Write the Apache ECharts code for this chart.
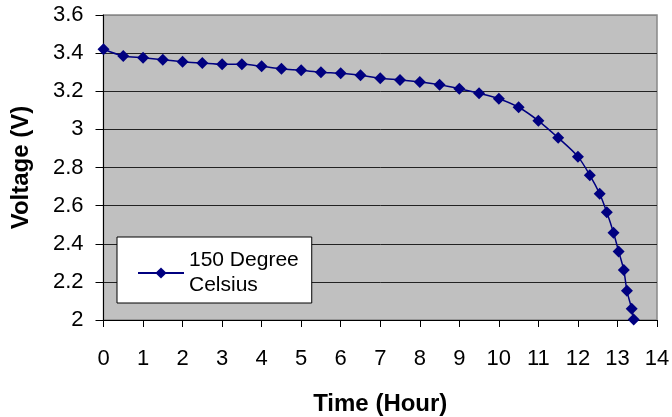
<!DOCTYPE html>
<html>
<head>
<meta charset="utf-8">
<script src="https://cdn.jsdelivr.net/npm/echarts@6/dist/echarts.min.js"></script>
<style>html,body{margin:0;padding:0;background:#fff}#c{width:672px;height:417px}</style>
</head>
<body>
<div id="c"></div>
<script>
var timeHours = [0, 0.5, 1, 1.5, 2, 2.5, 3, 3.5, 4, 4.5, 5, 5.5, 6, 6.5, 7, 7.5, 8, 8.5, 9, 9.5, 10, 10.5, 11, 11.5, 12, 12.3, 12.55, 12.73, 12.9, 13.03, 13.16, 13.24, 13.36, 13.41];
var voltage = [3.42, 3.385, 3.376, 3.365, 3.355, 3.348, 3.341, 3.341, 3.331, 3.318, 3.31, 3.30, 3.294, 3.284, 3.268, 3.259, 3.248, 3.234, 3.213, 3.189, 3.161, 3.116, 3.045, 2.956, 2.857, 2.76, 2.662, 2.565, 2.458, 2.36, 2.262, 2.153, 2.059, 2.003];
var seriesName = '150 Degree\nCelsius';
var xTitle = 'Time (Hour)';
var yTitle = 'Voltage (V)';

var points = timeHours.map(function (t, i) { return [t, voltage[i]]; });
var FONT = 'Liberation Sans, Arial, sans-serif';

var chart = echarts.init(document.getElementById('c'), null, {renderer: 'canvas'});
chart.setOption({
  animation: false,
  backgroundColor: '#ffffff',
  grid: {
    left: 103.5, right: 15, top: 15, bottom: 97,
    outerBoundsMode: 'none', containLabel: false,
    show: true, backgroundColor: '#C0C0C0', borderColor: '#888888', borderWidth: 1.5
  },
  xAxis: {
    type: 'value', min: 0, max: 14, interval: 1,
    name: xTitle, nameLocation: 'middle', nameGap: 72,
    nameTextStyle: {fontFamily: FONT, fontSize: 24, fontWeight: 'bold', color: '#000'},
    axisLine: {show: true, onZero: false, lineStyle: {color: '#000', width: 1}},
    axisTick: {show: true, inside: false, length: 7, lineStyle: {color: '#000'}},
    axisLabel: {fontFamily: FONT, fontSize: 22, color: '#000', margin: 28},
    splitLine: {show: false}
  },
  yAxis: {
    type: 'value', min: 2, max: 3.6, interval: 0.2,
    name: yTitle, nameLocation: 'middle', nameGap: 70,
    nameTextStyle: {fontFamily: FONT, fontSize: 24, fontWeight: 'bold', color: '#000'},
    axisLine: {show: true, onZero: false, lineStyle: {color: '#000', width: 1}},
    axisTick: {show: true, inside: false, length: 8, lineStyle: {color: '#000'}},
    axisLabel: {fontFamily: FONT, fontSize: 22, color: '#000', margin: 20,
      formatter: function (v) { return String(Math.round(v * 10) / 10); }},
    splitLine: {show: true, lineStyle: {color: ['#222', '#222', '#222', '#222', '#222', '#222', '#222', '#222', '#888'], width: 1}}
  },
  legend: {
    show: true, left: 117, top: 237, orient: 'vertical',
    backgroundColor: '#ffffff', borderColor: '#000', borderWidth: 1,
    padding: [13, 13, 7, 20],
    itemWidth: 46, itemHeight: 14,
    textStyle: {fontFamily: FONT, fontSize: 21, color: '#000', lineHeight: 25, verticalAlign: 'top', padding: [-12, 0, 0, 0]},
    data: [seriesName]
  },
  series: [{
    name: seriesName, type: 'line', data: points,
    smooth: 0.3,
    symbol: 'diamond', symbolSize: 12,
    lineStyle: {color: '#000080', width: 1.5},
    itemStyle: {color: '#000080'},
    z: 3
  }]
});
</script>
</body>
</html>
